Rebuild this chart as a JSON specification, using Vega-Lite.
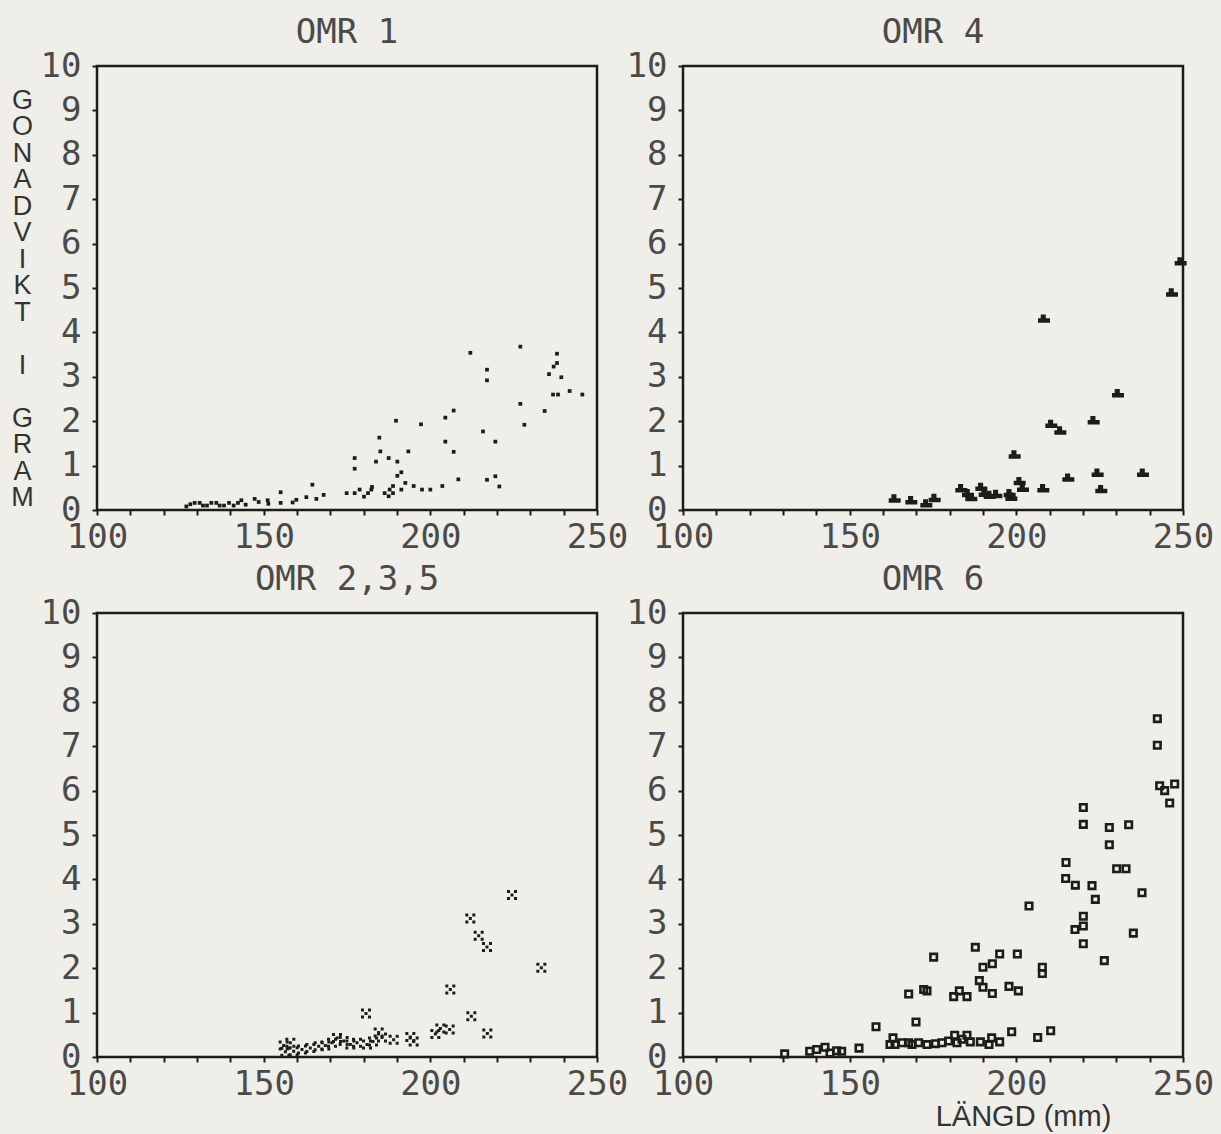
{
  "$schema": "https://vega.github.io/schema/vega-lite/v6.json",
  "background": "#efeee8",
  "padding": {"left": 9, "top": 14, "right": 10, "bottom": 8},
  "columns": 2,
  "spacing": {"row": 103, "column": 86},
  "bounds": "flush",
  "datasets": {
    "omr1": [
      {"langd": 212.0, "gonad": 3.54}, {"langd": 227.0, "gonad": 3.68}, {"langd": 238.0, "gonad": 3.52},
      {"langd": 217.0, "gonad": 3.16}, {"langd": 217.0, "gonad": 2.92}, {"langd": 238.0, "gonad": 3.31},
      {"langd": 237.0, "gonad": 3.23}, {"langd": 235.6, "gonad": 3.06}, {"langd": 239.3, "gonad": 2.99},
      {"langd": 236.8, "gonad": 2.60}, {"langd": 238.3, "gonad": 2.60}, {"langd": 241.8, "gonad": 2.68},
      {"langd": 245.6, "gonad": 2.60}, {"langd": 234.3, "gonad": 2.23}, {"langd": 227.0, "gonad": 2.39},
      {"langd": 228.2, "gonad": 1.92}, {"langd": 207.0, "gonad": 2.24}, {"langd": 204.5, "gonad": 2.08},
      {"langd": 215.8, "gonad": 1.77}, {"langd": 219.5, "gonad": 1.54}, {"langd": 204.5, "gonad": 1.54},
      {"langd": 207.0, "gonad": 1.31}, {"langd": 197.2, "gonad": 1.93}, {"langd": 189.7, "gonad": 2.01},
      {"langd": 184.7, "gonad": 1.63}, {"langd": 193.4, "gonad": 1.32}, {"langd": 208.4, "gonad": 0.69},
      {"langd": 217.0, "gonad": 0.68}, {"langd": 219.5, "gonad": 0.76}, {"langd": 220.7, "gonad": 0.53},
      {"langd": 174.9, "gonad": 0.38}, {"langd": 177.3, "gonad": 0.38}, {"langd": 177.3, "gonad": 1.17},
      {"langd": 177.3, "gonad": 0.93}, {"langd": 178.8, "gonad": 0.46}, {"langd": 180.1, "gonad": 0.30},
      {"langd": 181.3, "gonad": 0.38}, {"langd": 182.3, "gonad": 0.46}, {"langd": 182.5, "gonad": 0.52},
      {"langd": 183.7, "gonad": 1.09}, {"langd": 185.0, "gonad": 1.32}, {"langd": 186.3, "gonad": 0.38},
      {"langd": 187.5, "gonad": 0.31}, {"langd": 187.8, "gonad": 0.46}, {"langd": 188.8, "gonad": 0.38},
      {"langd": 188.8, "gonad": 0.54}, {"langd": 187.5, "gonad": 1.17}, {"langd": 190.1, "gonad": 1.09},
      {"langd": 190.1, "gonad": 0.77}, {"langd": 191.3, "gonad": 0.85}, {"langd": 191.3, "gonad": 0.46},
      {"langd": 192.5, "gonad": 0.61}, {"langd": 195.0, "gonad": 0.54}, {"langd": 197.5, "gonad": 0.46},
      {"langd": 200.0, "gonad": 0.46}, {"langd": 203.6, "gonad": 0.54},
      {"langd": 126.8, "gonad": 0.08}, {"langd": 128.0, "gonad": 0.13}, {"langd": 129.3, "gonad": 0.16},
      {"langd": 130.8, "gonad": 0.16}, {"langd": 131.8, "gonad": 0.10}, {"langd": 133.0, "gonad": 0.10},
      {"langd": 134.3, "gonad": 0.16}, {"langd": 135.8, "gonad": 0.16}, {"langd": 136.8, "gonad": 0.10},
      {"langd": 138.1, "gonad": 0.10}, {"langd": 139.6, "gonad": 0.16}, {"langd": 141.0, "gonad": 0.10},
      {"langd": 142.3, "gonad": 0.16}, {"langd": 143.3, "gonad": 0.22}, {"langd": 144.6, "gonad": 0.12},
      {"langd": 147.3, "gonad": 0.25}, {"langd": 148.5, "gonad": 0.18}, {"langd": 151.2, "gonad": 0.22},
      {"langd": 151.4, "gonad": 0.14}, {"langd": 155.1, "gonad": 0.40}, {"langd": 155.1, "gonad": 0.16},
      {"langd": 158.7, "gonad": 0.17}, {"langd": 159.8, "gonad": 0.23}, {"langd": 162.8, "gonad": 0.29},
      {"langd": 164.6, "gonad": 0.57}, {"langd": 165.8, "gonad": 0.25}, {"langd": 168.0, "gonad": 0.34}
    ],
    "omr4": [
      {"langd": 249.3, "gonad": 5.6}, {"langd": 246.7, "gonad": 4.9}, {"langd": 208.3, "gonad": 4.31},
      {"langd": 230.5, "gonad": 2.63}, {"langd": 223.2, "gonad": 2.02}, {"langd": 210.5, "gonad": 1.94},
      {"langd": 213.2, "gonad": 1.79}, {"langd": 199.5, "gonad": 1.25}, {"langd": 238.0, "gonad": 0.84},
      {"langd": 224.4, "gonad": 0.84}, {"langd": 215.6, "gonad": 0.73}, {"langd": 225.5, "gonad": 0.47},
      {"langd": 208.1, "gonad": 0.49}, {"langd": 202.0, "gonad": 0.50}, {"langd": 201.0, "gonad": 0.65},
      {"langd": 198.0, "gonad": 0.38}, {"langd": 198.5, "gonad": 0.30}, {"langd": 194.0, "gonad": 0.36},
      {"langd": 189.5, "gonad": 0.52}, {"langd": 190.5, "gonad": 0.39}, {"langd": 186.5, "gonad": 0.29},
      {"langd": 185.5, "gonad": 0.38}, {"langd": 183.5, "gonad": 0.49}, {"langd": 175.5, "gonad": 0.27},
      {"langd": 173.0, "gonad": 0.15}, {"langd": 168.5, "gonad": 0.22}, {"langd": 163.5, "gonad": 0.26},
      {"langd": 192.0, "gonad": 0.34}
    ],
    "omr235": [
      {"langd": 224.5, "gonad": 3.65}, {"langd": 212.0, "gonad": 3.12}, {"langd": 214.5, "gonad": 2.73},
      {"langd": 217.0, "gonad": 2.48}, {"langd": 233.3, "gonad": 2.01}, {"langd": 206.0, "gonad": 1.52},
      {"langd": 212.3, "gonad": 0.92}, {"langd": 217.1, "gonad": 0.53}, {"langd": 180.7, "gonad": 0.98},
      {"langd": 201.5, "gonad": 0.52}, {"langd": 203.0, "gonad": 0.64}, {"langd": 205.8, "gonad": 0.62},
      {"langd": 194.0, "gonad": 0.45}, {"langd": 195.0, "gonad": 0.35}, {"langd": 189.0, "gonad": 0.39},
      {"langd": 185.5, "gonad": 0.44}, {"langd": 184.5, "gonad": 0.55}, {"langd": 182.8, "gonad": 0.35},
      {"langd": 181.0, "gonad": 0.28}, {"langd": 178.0, "gonad": 0.32}, {"langd": 176.0, "gonad": 0.28},
      {"langd": 174.0, "gonad": 0.36}, {"langd": 172.0, "gonad": 0.43}, {"langd": 170.5, "gonad": 0.32},
      {"langd": 168.5, "gonad": 0.26}, {"langd": 166.5, "gonad": 0.24}, {"langd": 164.0, "gonad": 0.20},
      {"langd": 161.5, "gonad": 0.17}, {"langd": 159.0, "gonad": 0.13}, {"langd": 158.0, "gonad": 0.32},
      {"langd": 156.5, "gonad": 0.12}, {"langd": 156.0, "gonad": 0.26}
    ],
    "omr6": [
      {"langd": 242.3, "gonad": 7.62}, {"langd": 242.3, "gonad": 7.02}, {"langd": 243.0, "gonad": 6.11},
      {"langd": 244.5, "gonad": 6.0}, {"langd": 247.5, "gonad": 6.15}, {"langd": 246.0, "gonad": 5.72},
      {"langd": 220.1, "gonad": 5.62}, {"langd": 220.1, "gonad": 5.24}, {"langd": 227.9, "gonad": 5.17},
      {"langd": 233.7, "gonad": 5.23}, {"langd": 227.9, "gonad": 4.78}, {"langd": 230.1, "gonad": 4.24},
      {"langd": 232.9, "gonad": 4.24}, {"langd": 214.9, "gonad": 4.38}, {"langd": 214.8, "gonad": 4.02},
      {"langd": 217.7, "gonad": 3.87}, {"langd": 222.7, "gonad": 3.86}, {"langd": 223.7, "gonad": 3.55},
      {"langd": 237.7, "gonad": 3.70}, {"langd": 203.8, "gonad": 3.40}, {"langd": 220.1, "gonad": 3.17},
      {"langd": 220.1, "gonad": 2.95}, {"langd": 217.6, "gonad": 2.87}, {"langd": 220.1, "gonad": 2.55},
      {"langd": 235.1, "gonad": 2.79}, {"langd": 226.4, "gonad": 2.17}, {"langd": 187.7, "gonad": 2.47},
      {"langd": 175.2, "gonad": 2.25}, {"langd": 195.0, "gonad": 2.32}, {"langd": 200.3, "gonad": 2.32},
      {"langd": 192.8, "gonad": 2.10}, {"langd": 190.0, "gonad": 2.02}, {"langd": 207.8, "gonad": 2.02},
      {"langd": 207.8, "gonad": 1.88}, {"langd": 188.9, "gonad": 1.72}, {"langd": 190.0, "gonad": 1.57},
      {"langd": 192.8, "gonad": 1.43}, {"langd": 197.8, "gonad": 1.59}, {"langd": 200.6, "gonad": 1.49},
      {"langd": 182.9, "gonad": 1.49}, {"langd": 181.2, "gonad": 1.36}, {"langd": 185.2, "gonad": 1.36},
      {"langd": 172.2, "gonad": 1.52}, {"langd": 173.2, "gonad": 1.49}, {"langd": 167.7, "gonad": 1.42},
      {"langd": 206.4, "gonad": 0.44}, {"langd": 210.3, "gonad": 0.59},
      {"langd": 130.5, "gonad": 0.07}, {"langd": 138.0, "gonad": 0.13}, {"langd": 140.1, "gonad": 0.17},
      {"langd": 142.6, "gonad": 0.22}, {"langd": 144.1, "gonad": 0.09}, {"langd": 146.1, "gonad": 0.14},
      {"langd": 147.6, "gonad": 0.13}, {"langd": 152.8, "gonad": 0.20}, {"langd": 157.9, "gonad": 0.68},
      {"langd": 169.9, "gonad": 0.79}, {"langd": 163.0, "gonad": 0.43}, {"langd": 162.1, "gonad": 0.28},
      {"langd": 163.6, "gonad": 0.28}, {"langd": 165.7, "gonad": 0.32}, {"langd": 167.7, "gonad": 0.32},
      {"langd": 168.7, "gonad": 0.28}, {"langd": 170.7, "gonad": 0.32}, {"langd": 173.2, "gonad": 0.28},
      {"langd": 175.7, "gonad": 0.30}, {"langd": 177.7, "gonad": 0.32}, {"langd": 179.7, "gonad": 0.36},
      {"langd": 181.5, "gonad": 0.49}, {"langd": 182.2, "gonad": 0.32}, {"langd": 183.7, "gonad": 0.40},
      {"langd": 185.2, "gonad": 0.49}, {"langd": 186.2, "gonad": 0.34}, {"langd": 189.2, "gonad": 0.34},
      {"langd": 191.8, "gonad": 0.28}, {"langd": 192.6, "gonad": 0.43}, {"langd": 195.0, "gonad": 0.34},
      {"langd": 198.6, "gonad": 0.57}
    ]
  },
  "concat": [
    {
      "title": "OMR 1",
      "width": 500, "height": 444,
      "data": {"name": "omr1"},
      "mark": {"type": "point", "shape": "square", "filled": true, "size": 14, "color": "#1c1c1c", "opacity": 1},
      "encoding": {
        "x": {"field": "langd", "type": "quantitative", "scale": {"domain": [100, 250], "nice": false, "zero": false}, "axis": {"title": null}},
        "y": {"field": "gonad", "type": "quantitative", "scale": {"domain": [0, 10], "nice": false},
              "axis": {"title": ["G", "O", "N", "A", "D", "V", "I", "K", "T", "\u200b", "I", "\u200b", "G", "R", "A", "M"],
                       "titleAngle": 0, "titleAlign": "center", "titleBaseline": "top", "titleX": -75, "titleY": 21,
                       "titleLineHeight": 26.5, "titleFont": "Liberation Sans", "titleFontSize": 27, "titleFontWeight": "normal", "titleColor": "#333"}}
      }
    },
    {
      "title": "OMR 4",
      "width": 500, "height": 444,
      "data": {"name": "omr4"},
      "mark": {"type": "point", "shape": "M-0.55,-0.7L0.3,-0.7L0.3,-0.05L1,-0.05L1,0.7L-1,0.7L-1,-0.05L-0.55,-0.05Z", "filled": true, "size": 144, "color": "#1c1c1c", "opacity": 1},
      "encoding": {
        "x": {"field": "langd", "type": "quantitative", "scale": {"domain": [100, 250], "nice": false, "zero": false}, "axis": {"title": null}},
        "y": {"field": "gonad", "type": "quantitative", "scale": {"domain": [0, 10], "nice": false}, "axis": {"title": null}}
      }
    },
    {
      "title": "OMR 2,3,5",
      "width": 500, "height": 444,
      "data": {"name": "omr235"},
      "mark": {"type": "point", "shape": "M-1,-1h0.6v0.6h-0.6z M0.4,-1h0.6v0.6h-0.6z M-0.3,-0.3h0.6v0.6h-0.6z M-1,0.4h0.6v0.6h-0.6z M0.4,0.4h0.6v0.6h-0.6z", "filled": true, "size": 100, "color": "#1c1c1c", "opacity": 1},
      "encoding": {
        "x": {"field": "langd", "type": "quantitative", "scale": {"domain": [100, 250], "nice": false, "zero": false}, "axis": {"title": null}},
        "y": {"field": "gonad", "type": "quantitative", "scale": {"domain": [0, 10], "nice": false}, "axis": {"title": null}}
      }
    },
    {
      "title": "OMR 6",
      "width": 500, "height": 444,
      "data": {"name": "omr6"},
      "mark": {"type": "point", "shape": "square", "filled": false, "size": 42, "strokeWidth": 2.6, "color": "#1c1c1c", "opacity": 1},
      "encoding": {
        "x": {"field": "langd", "type": "quantitative", "scale": {"domain": [100, 250], "nice": false, "zero": false},
              "axis": {"title": "LÄNGD (mm)", "titleFont": "Liberation Sans", "titleFontSize": 29, "titleFontWeight": "normal", "titleColor": "#333",
                       "titleX": 340, "titleY": 45, "titleAlign": "center", "titleBaseline": "top"}},
        "y": {"field": "gonad", "type": "quantitative", "scale": {"domain": [0, 10], "nice": false}, "axis": {"title": null}}
      }
    }
  ],
  "config": {
    "view": {"stroke": "#1c1c1c", "strokeWidth": 2.5, "fill": null},
    "axisX": {"values": [100, 125, 150, 175, 200, 225, 250], "labelExpr": "datum.value % 50 === 0 ? datum.label : ''", "labelPadding": 5},
    "axisY": {"values": [0, 0.25, 0.5, 0.75, 1, 1.25, 1.5, 1.75, 2, 2.25, 2.5, 2.75, 3, 3.25, 3.5, 3.75, 4, 4.25, 4.5, 4.75, 5, 5.25, 5.5, 5.75, 6, 6.25, 6.5, 6.75, 7, 7.25, 7.5, 7.75, 8, 8.25, 8.5, 8.75, 9, 9.25, 9.5, 9.75, 10],
              "labelExpr": "datum.value % 1 === 0 ? format(datum.value, 'd') : ''", "labelPadding": 11},
    "axis": {"domain": false, "grid": false, "tickColor": "#1c1c1c", "tickWidth": 2, "tickSize": 5,
             "labelFont": "DejaVu Sans Mono", "labelFontSize": 34, "labelColor": "#4a4a4a", "labelOverlap": false, "labelFlush": false, "labelBound": false},
    "title": {"font": "DejaVu Sans Mono", "fontSize": 34, "fontWeight": "normal", "color": "#4a4a4a", "offset": -1, "anchor": "middle"}
  }
}
